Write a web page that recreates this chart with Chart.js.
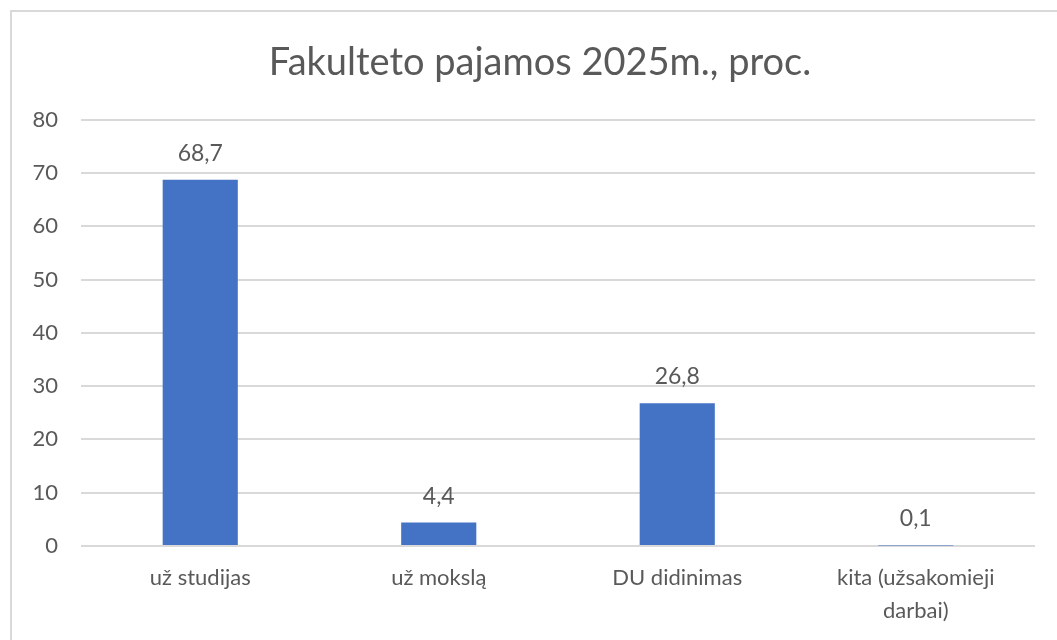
<!DOCTYPE html>
<html>
<head>
<meta charset="utf-8">
<script src="https://cdn.jsdelivr.net/npm/chart.js@4.4.1/dist/chart.umd.min.js"></script>
<style>
  body { margin: 0; background: #fff; }
  #frame { position: absolute; left: 10px; top: 10px; width: 1100px; height: 700px; border: 2px solid #d9d9d9; }
  #chart { position: absolute; left: 0; top: 0; }
</style>
</head>
<body>
<div id="frame"></div>
<canvas id="chart" width="1057" height="640"></canvas>
<script>
var labels = [["už studijas"], ["už mokslą"], ["DU didinimas"], ["kita (užsakomieji", "darbai)"]]
var values = [68.7, 4.4, 26.8, 0.1]
var yMin = 0
var yMax = 80
var yStep = 10
var titleText = "Fakulteto pajamos 2025m., proc."

var textColor = "#595959"
var fontFamily = "Lato, 'Noto Sans', sans-serif"

// value labels above each bar, with a comma decimal like the original
var barLabels = {
    id: 'barLabels',
    afterDatasetsDraw: function (chart) {
        var ctx = chart.ctx
        var meta = chart.getDatasetMeta(0)
        ctx.save()
        ctx.font = "23px " + fontFamily
        ctx.fillStyle = textColor
        ctx.textAlign = "center"
        ctx.textBaseline = "alphabetic"
        meta.data.forEach(function (bar, i) {
            var txt = values[i].toFixed(1).replace('.', ',')
            ctx.fillText(txt, bar.x, bar.y - 19)
        })
        ctx.restore()
    }
}

// centre the title on the whole frame, not on the padded area
var titleCentre = {
    id: 'titleCentre',
    afterLayout: function (chart) {
        var t = chart.titleBlock
        t.left = 10
        t.right = 1070
        t.width = 1060
    }
}

var config = {
    type: 'bar',
    data: {
        labels: labels,
        datasets: [{
            data: values,
            backgroundColor: "#4472C4",
            barPercentage: 0.63,
            categoryPercentage: 0.5
        }]
    },
    options: {
        responsive: false,
        animation: false,
        layout: {
            padding: { left: 10, right: 22, top: 0, bottom: 0 }
        },
        plugins: {
            legend: { display: false },
            tooltip: { enabled: false },
            title: {
                display: true,
                text: titleText,
                color: textColor,
                font: { family: fontFamily, size: 38, weight: 'normal', lineHeight: 1.2 },
                padding: { top: 40, bottom: 34 }
            }
        },
        scales: {
            y: {
                min: yMin,
                max: yMax,
                ticks: {
                    stepSize: yStep,
                    color: textColor,
                    padding: 23,
                    font: { family: fontFamily, size: 22 }
                },
                grid: { color: "#d9d9d9", lineWidth: 2, drawTicks: false },
                border: { display: false },
                afterFit: function (scale) { scale.width = 71 }
            },
            x: {
                ticks: {
                    color: textColor,
                    padding: 15,
                    font: { family: fontFamily, size: 22, lineHeight: 1.5 }
                },
                grid: { display: false, drawTicks: false },
                border: { display: false },
                afterFit: function (scale) { scale.height = 94 }
            }
        }
    },
    plugins: [barLabels, titleCentre]
}

var chart = new Chart(document.getElementById("chart").getContext("2d"), config)
</script>
</body>
</html>
